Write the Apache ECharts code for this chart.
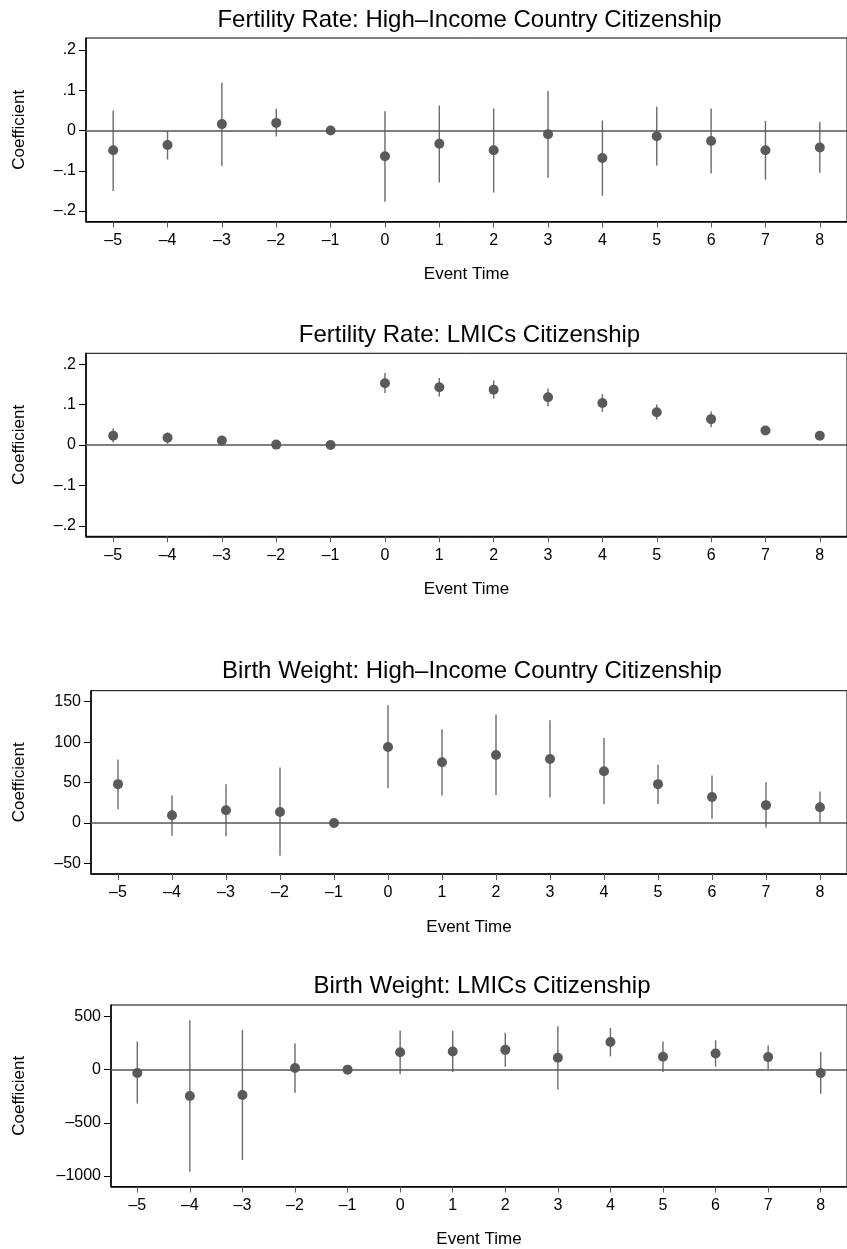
<!DOCTYPE html>
<html>
<head>
<meta charset="utf-8">
<script src="https://cdn.jsdelivr.net/npm/echarts@6/dist/echarts.min.js"></script>
<style>
  html, body { margin: 0; padding: 0; background: #fff; }
  #main { width: 847px; height: 1249px; }
</style>
</head>
<body>
<div id="main"></div>
<script>
// event time (x axis)
var eventTime = [-5, -4, -3, -2, -1, 0, 1, 2, 3, 4, 5, 6, 7, 8];

// Fertility Rate: High-Income Country Citizenship
var fertHighCoef = [-0.049, -0.036, 0.016, 0.019, 0, -0.064, -0.033, -0.049, -0.009, -0.068, -0.014, -0.026, -0.049, -0.042];
var fertHighLo   = [-0.150, -0.072, -0.088, -0.015, 0, -0.177, -0.129, -0.154, -0.117, -0.162, -0.087, -0.107, -0.122, -0.105];
var fertHighHi   = [0.050, -0.001, 0.119, 0.054, 0, 0.048, 0.062, 0.055, 0.098, 0.025, 0.059, 0.055, 0.024, 0.022];

// Fertility Rate: LMICs Citizenship
var fertLowCoef = [0.023, 0.018, 0.011, 0.001, 0, 0.153, 0.143, 0.137, 0.118, 0.104, 0.081, 0.064, 0.036, 0.023];
var fertLowLo   = [0.006, 0.003, 0.004, -0.001, 0, 0.129, 0.120, 0.115, 0.096, 0.082, 0.063, 0.044, 0.029, 0.014];
var fertLowHi   = [0.041, 0.031, 0.020, 0.003, 0, 0.178, 0.166, 0.160, 0.140, 0.126, 0.100, 0.083, 0.044, 0.031];

// Birth Weight: High-Income Country Citizenship
var bwHighCoef = [48, 9.5, 15.7, 13.6, 0, 94, 75, 84, 79, 64, 48, 32, 22, 19.4];
var bwHighLo   = [17, -16, -16.5, -40.5, 0, 43, 34, 34.7, 31.4, 23, 23.5, 5.4, -5.8, 0.4];
var bwHighHi   = [78.5, 34, 48, 68.6, 0, 145.5, 116, 134, 127, 105, 72, 58.7, 50.4, 38.8];

// Birth Weight: LMICs Citizenship
var bwLowCoef = [-31, -248, -239, 15, 0, 164, 170, 186, 112, 260, 121, 152, 118, -31];
var bwLowLo   = [-319, -961, -849, -217, 0, -40, -22, 28, -186, 124, -22, 28, 6, -226];
var bwLowHi   = [264, 465, 372, 245, 0, 369, 366, 347, 409, 394, 264, 276, 229, 167];

// y tick values per panel
var fertTicks = [-0.2, -0.1, 0, 0.1, 0.2];
var bwHighTicks = [-50, 0, 50, 100, 150];
var bwLowTicks = [-1000, -500, 0, 500];

var titles = [
  'Fertility Rate: High\u2013Income Country Citizenship',
  'Fertility Rate: LMICs Citizenship',
  'Birth Weight: High\u2013Income Country Citizenship',
  'Birth Weight: LMICs Citizenship'
];

var font = '"Liberation Sans", Arial, Helvetica, sans-serif';

// stata style labels: .2, –.1, –50
function stataLabel(v) {
  var s = String(Math.round(v * 1000) / 1000);
  s = s.replace('0.', '.');
  return s.replace('-', '\u2013');
}

// layout of each panel (px)
var panels = [
  { coef: fertHighCoef, lo: fertHighLo, hi: fertHighHi, ticks: fertTicks, min: -0.226, max: 0.23, left: 86, top: 38, height: 183.5, titleTop: 8, nameGap: 58.5 },
  { coef: fertLowCoef, lo: fertLowLo, hi: fertLowHi, ticks: fertTicks, min: -0.226, max: 0.227, left: 86, top: 353.3, height: 183, titleTop: 323, nameGap: 58.5 },
  { coef: bwHighCoef, lo: bwHighLo, hi: bwHighHi, ticks: bwHighTicks, min: -63.2, max: 163.6, left: 91, top: 690.7, height: 183.3, titleTop: 659, nameGap: 63 },
  { coef: bwLowCoef, lo: bwLowLo, hi: bwLowHi, ticks: bwLowTicks, min: -1099, max: 608, left: 111, top: 1005, height: 184, titleTop: 974, nameGap: 83.5 }
];

var chartW = 847;
var gridRight = -6;

var option = {
  backgroundColor: '#fff',
  animation: false,
  title: [],
  grid: [],
  xAxis: [],
  yAxis: [],
  series: []
};

panels.forEach(function (p, i) {
  var center = p.left + (chartW - gridRight - p.left) / 2;
  option.title.push({
    text: titles[i],
    left: center,
    top: p.titleTop,
    textAlign: 'center',
    padding: 0,
    textStyle: { fontFamily: font, fontSize: 24, fontWeight: 'normal', color: '#000' }
  });
  option.grid.push({
    left: p.left,
    right: gridRight,
    top: p.top,
    height: p.height,
    show: true,
    borderColor: '#000',
    borderWidth: 1,
    backgroundColor: 'transparent',
    containLabel: false
  });
  option.xAxis.push({
    type: 'value',
    gridIndex: i,
    min: -5.5,
    max: 8.5,
    name: 'Event Time',
    nameLocation: 'middle',
    nameGap: 44.5,
    nameTextStyle: { fontFamily: font, fontSize: 17, color: '#000' },
    splitLine: { show: false },
    axisLine: { onZero: false, lineStyle: { color: '#000', width: 1.5 } },
    axisTick: { show: true, length: 6, customValues: eventTime, lineStyle: { color: '#555', width: 1 } },
    axisLabel: { customValues: eventTime, margin: 11, fontFamily: font, fontSize: 16, color: '#000', formatter: stataLabel }
  });
  option.yAxis.push({
    type: 'value',
    gridIndex: i,
    min: p.min,
    max: p.max,
    name: 'Coefficient',
    nameLocation: 'middle',
    nameGap: p.nameGap,
    nameTextStyle: { fontFamily: font, fontSize: 17, color: '#000' },
    splitLine: { show: false },
    axisLine: { onZero: false, lineStyle: { color: '#000', width: 1.5 } },
    axisTick: { show: true, length: 7, customValues: p.ticks, lineStyle: { color: '#000', width: 1 } },
    axisLabel: { customValues: p.ticks, margin: 10, fontFamily: font, fontSize: 16, color: '#000', formatter: stataLabel }
  });

  // confidence intervals as vertical lines
  var ciData = eventTime.map(function (t, k) { return [t, p.lo[k], p.hi[k]]; });
  option.series.push({
    type: 'custom',
    xAxisIndex: i,
    yAxisIndex: i,
    silent: true,
    z: 3,
    data: ciData,
    encode: { x: 0, y: [1, 2] },
    renderItem: function (params, api) {
      var a = api.coord([api.value(0), api.value(1)]);
      var b = api.coord([api.value(0), api.value(2)]);
      return {
        type: 'line',
        shape: { x1: a[0], y1: a[1], x2: b[0], y2: b[1] },
        style: { stroke: '#6a6a6a', lineWidth: 1.4 }
      };
    },
    // reference line at zero
    markLine: {
      silent: true,
      symbol: 'none',
      label: { show: false },
      lineStyle: { color: '#555', width: 1.6, type: 'solid' },
      data: [{ yAxis: 0 }]
    }
  });

  // point estimates
  option.series.push({
    type: 'scatter',
    xAxisIndex: i,
    yAxisIndex: i,
    z: 4,
    symbol: 'circle',
    symbolSize: 10,
    itemStyle: { color: '#5a5a5a', opacity: 1 },
    data: eventTime.map(function (t, k) { return [t, p.coef[k]]; })
  });
});

var myChart = echarts.init(document.getElementById('main'), null, { renderer: 'canvas' });
myChart.setOption(option);
</script>
</body>
</html>
